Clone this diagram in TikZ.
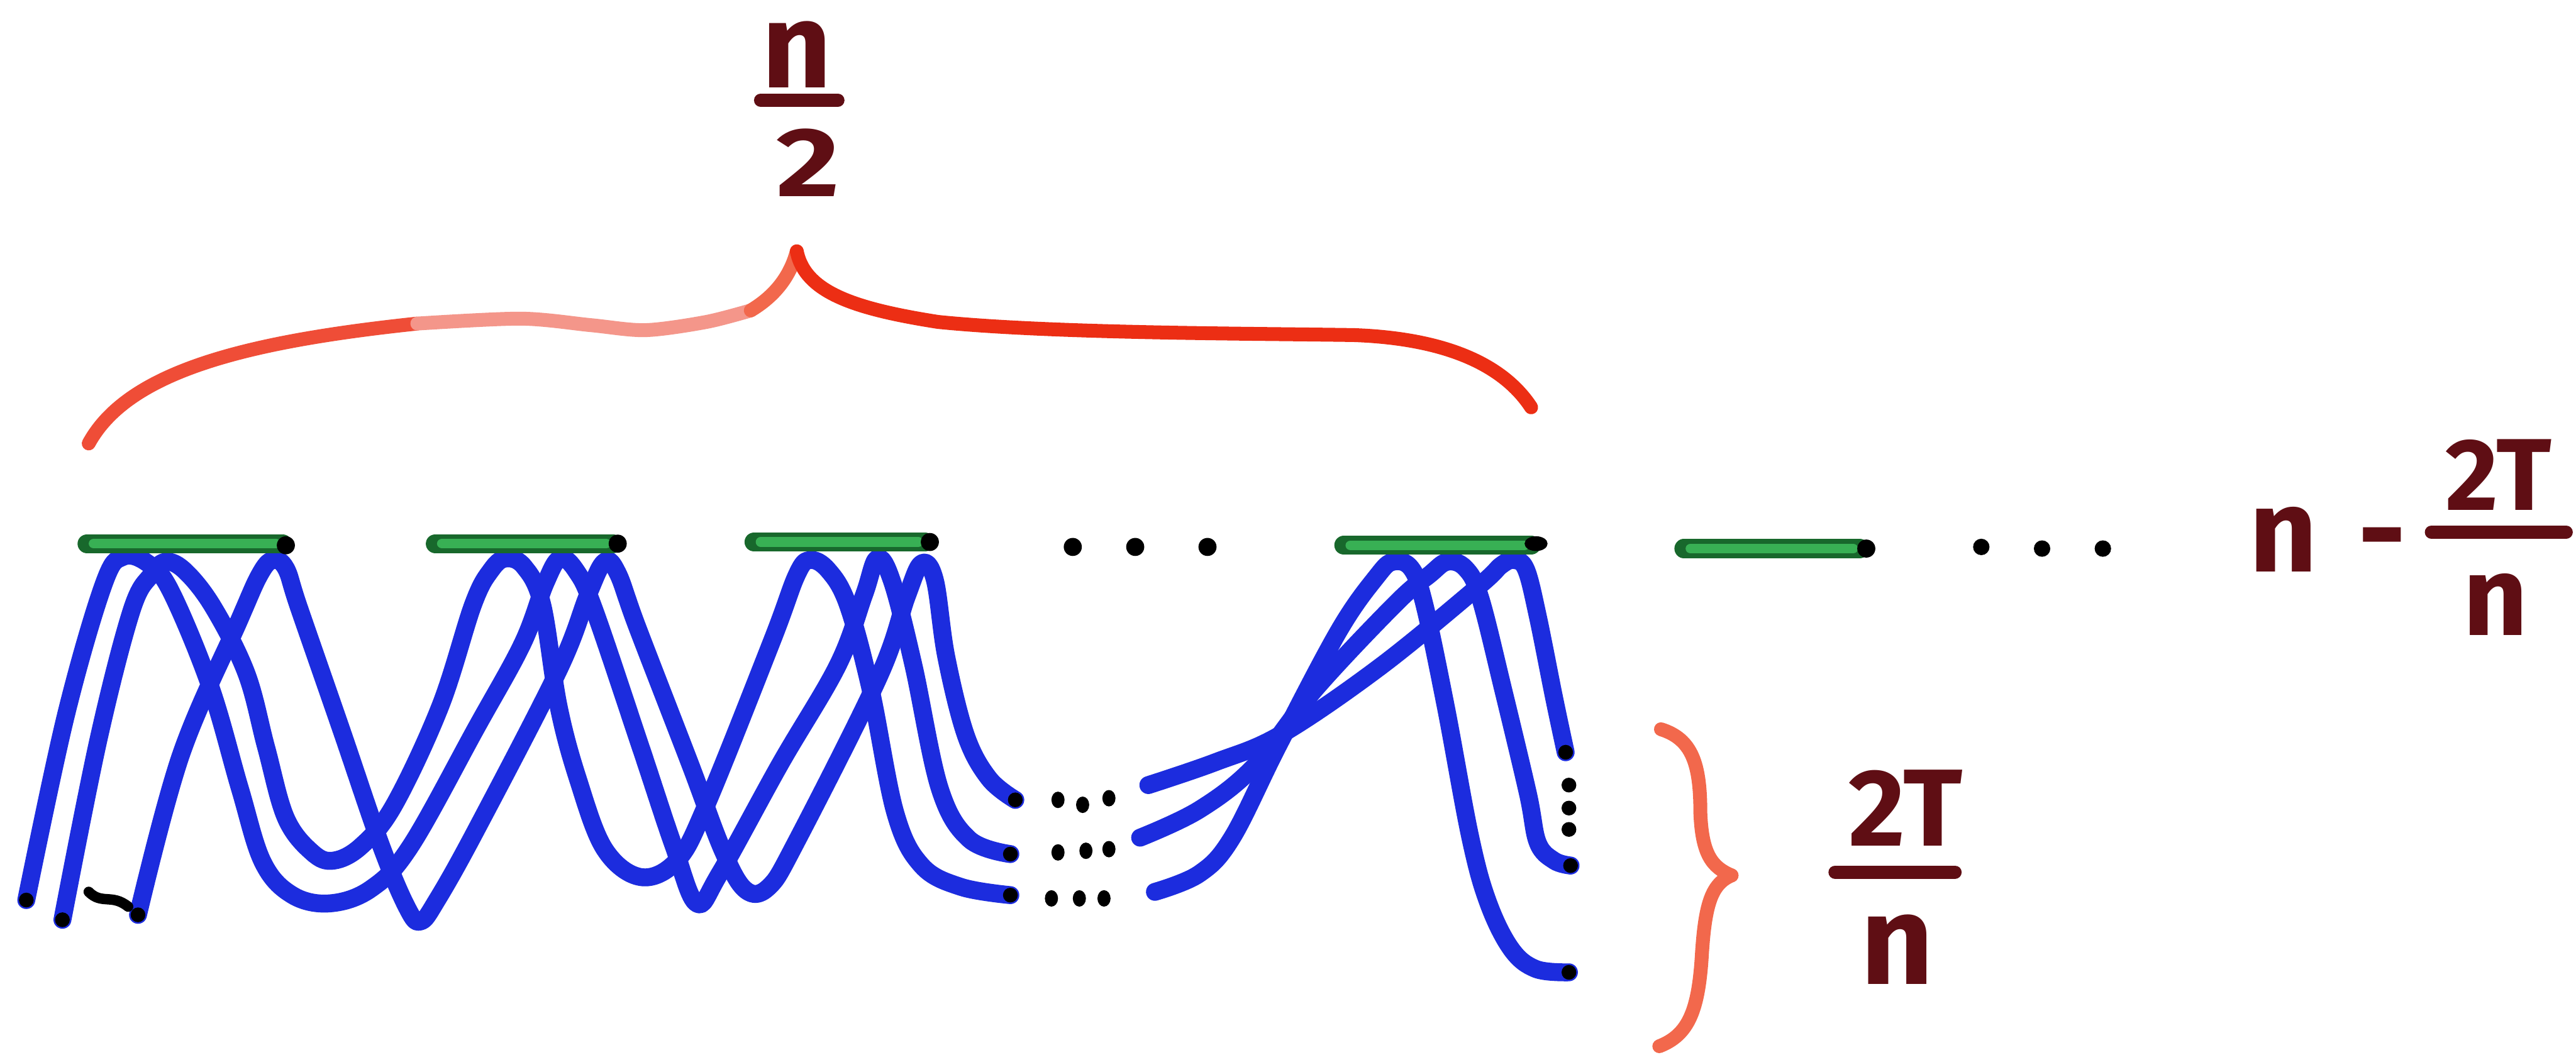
\documentclass[tikz,border=0pt]{standalone}
\usepackage{fontspec}
\setmainfont{Fira Sans}
\definecolor{blueink}{RGB}{28,44,222}
\definecolor{greenink}{RGB}{56,176,84}
\definecolor{greenedge}{RGB}{24,104,44}
\definecolor{bracered}{RGB}{236,46,20}
\definecolor{bracesoft}{RGB}{244,150,138}
\definecolor{bracesalmon}{RGB}{242,104,76}
\definecolor{textink}{RGB}{95,14,20}
\begin{document}
\begin{tikzpicture}[x=0.1mm,y=-0.1mm,
  strand/.style={draw=blueink,line width=3.1pt,line cap=round,line join=round},
  segedge/.style={draw=greenedge,line width=3.3pt,line cap=round},
  segfill/.style={draw=greenink,line width=1.7pt,line cap=round},
  inkdot/.style={fill=black,draw=none},
  bracestroke/.style={line width=2.4pt,line cap=round,line join=round},
  handtext/.style={text=textink,inner sep=0pt},
  fracbar/.style={draw=textink,line width=2.3pt,line cap=round}]
\fill[white] (0,0) rectangle (1568,642);
\useasboundingbox (0,0) rectangle (1568,642);

% ---- blue strands, first three blocks ----
\draw[strand] plot[smooth,tension=0.6] coordinates {(16,548) (40,436) (63,356) (75,339) (90,343) (104,360) (128,418) (146,480) (160,525) (178,545) (201,550) (226,541) (250,515) (290,443) (318,392) (332,355) (341,340) (351,348) (362,372) (390,455) (410,515) (424,550) (438,532) (475,465) (510,405) (526,362) (534,340) (543,354) (556,405) (572,480) (590,511) (615,520)};
\draw[strand] plot[smooth,tension=0.6] coordinates {(38,560) (60,450) (80,372) (92,350) (101,342) (113,348) (130,370) (150,410) (162,455) (174,498) (190,519) (203,524) (220,515) (240,490) (268,430) (288,368) (299,347) (308,340) (319,345) (330,368) (340,430) (352,475) (368,517) (390,534) (412,524) (430,490) (470,390) (485,350) (493,341) (504,347) (516,368) (530,420) (545,495) (561,527) (585,540) (615,545)};
\draw[strand] plot[smooth,tension=0.6] coordinates {(84,557) (110,460) (145,379) (158,350) (166,341) (174,346) (182,370) (208,445) (232,515) (248,553) (256,561) (266,548) (290,505) (340,408) (358,362) (368,342) (376,349) (388,382) (420,465) (440,518) (454,542) (468,540) (485,512) (535,412) (552,363) (561,343) (569,353) (576,400) (588,448) (602,474) (618,487)};

% ---- blue strands, last block ----
\draw[strand] plot[smooth,tension=0.6] coordinates {(699,478) (740,464) (780,447) (840,406) (900,357) (914,344) (922,341) (929,347) (936,375) (946,425) (953,458)};
\draw[strand] plot[smooth,tension=0.6] coordinates {(694,510) (730,493) (764,466) (801,419) (850,367) (870,350) (881,342) (892,346) (901,364) (915,420) (930,483) (936,513) (946,524) (956,527)};
\draw[strand] plot[smooth,tension=0.6] coordinates {(703,543) (730,532) (750,510) (778,454) (815,384) (838,351) (848,342) (859,346) (867,368) (880,430) (895,510) (906,550) (920,578) (935,590) (955,592)};

% dark pen tips at strand ends
\foreach \p in {(16,548),(38,560),(84,557),(618,487),(615,520),(615,545),(953,458),(956,527),(955,592)}
  \fill[inkdot] \p circle[radius=4.5];
\draw[black,line width=1.8pt,line cap=round] (54,543) .. controls (62,551) and (68,544) .. (78,552);

% ---- green segments with black right ends ----
\foreach \a/\b/\y in {53/172/331, 265/373/331, 459/563/330, 818/932/332, 1025/1132/334} {
  \draw[segedge] (\a,\y) -- (\b,\y);
  \draw[segfill] (\a+4,\y) -- (\b-4,\y);
}
\foreach \p in {(174,332),(376,331),(566,330),(1136,334)}
  \fill[inkdot] \p circle[radius=5.5];
\fill[inkdot] (935,331) ellipse[x radius=7,y radius=4.5];

% ---- ellipsis dots ----
\foreach \p in {(653,333),(691,333),(735,333)}
  \fill[inkdot] \p circle[radius=5.5];
\foreach \p in {(1206,333),(1243,334),(1280,334)}
  \fill[inkdot] \p circle[radius=5];
\foreach \p in {(644,487),(659,490),(675,486),(644,519),(661,518),(675,517),(640,547),(657,547),(672,547)}
  \fill[inkdot] \p ellipse[x radius=4,y radius=5];
\foreach \p in {(955,478),(955,492),(955,505)}
  \fill[inkdot] \p circle[radius=4.5];

% ---- top brace ----
\draw[bracestroke,draw=bracered!85] (54,270) .. controls (78,226) and (150,208) .. (254,197);
\draw[bracestroke,draw=bracesoft] plot[smooth] coordinates {(254,197) (317,194) (360,198) (393,201) (430,196) (457,189)};
\draw[bracestroke,draw=bracesalmon] (457,189) .. controls (472,180) and (481,168) .. (485,153);
\draw[bracestroke,draw=bracered] (485,153) .. controls (490,178) and (520,188) .. (571,196)
  .. controls (640,203) and (760,203) .. (824,204) .. controls (880,206) and (915,222) .. (932,248);

% ---- side brace ----
\draw[bracestroke,draw=bracesalmon] (1011,444) .. controls (1030,450) and (1035,465) .. (1035,495)
  .. controls (1036,520) and (1042,528) .. (1054,533);
\draw[bracestroke,draw=bracesalmon] (1054,533) .. controls (1042,538) and (1038,550) .. (1036,580)
  .. controls (1034,615) and (1028,630) .. (1010,637);

% ---- labels ----
\node[handtext,font=\bfseries\fontsize{21pt}{21pt}\selectfont] (halfnum) at (485,33) {n};
\draw[fracbar] (463,61) -- (510,61);
\node[handtext,font=\bfseries\fontsize{17pt}{17pt}\selectfont,xscale=1.25] (halfden) at (492,99) {2};

\node[handtext,font=\bfseries\fontsize{20.5pt}{20.5pt}\selectfont,anchor=base] (restn) at (1390,348) {n};
\node[handtext,font=\bfseries\fontsize{20.5pt}{20.5pt}\selectfont,anchor=base] (restminus) at (1450,348) {-};
\node[handtext,font=\bfseries\fontsize{17.7pt}{17.7pt}\selectfont] (restnum) at (1521,289) {2T};
\draw[fracbar] (1480,324) -- (1562,324);
\node[handtext,font=\bfseries\fontsize{19.5pt}{19.5pt}\selectfont] (restden) at (1519,368) {n};

\node[handtext,font=\bfseries\fontsize{19pt}{19pt}\selectfont] (sidenum) at (1160,492) {2T};
\draw[fracbar] (1117,531) -- (1190,531);
\node[handtext,font=\bfseries\fontsize{22pt}{22pt}\selectfont] (sideden) at (1155,578) {n};
\end{tikzpicture}
\end{document}
